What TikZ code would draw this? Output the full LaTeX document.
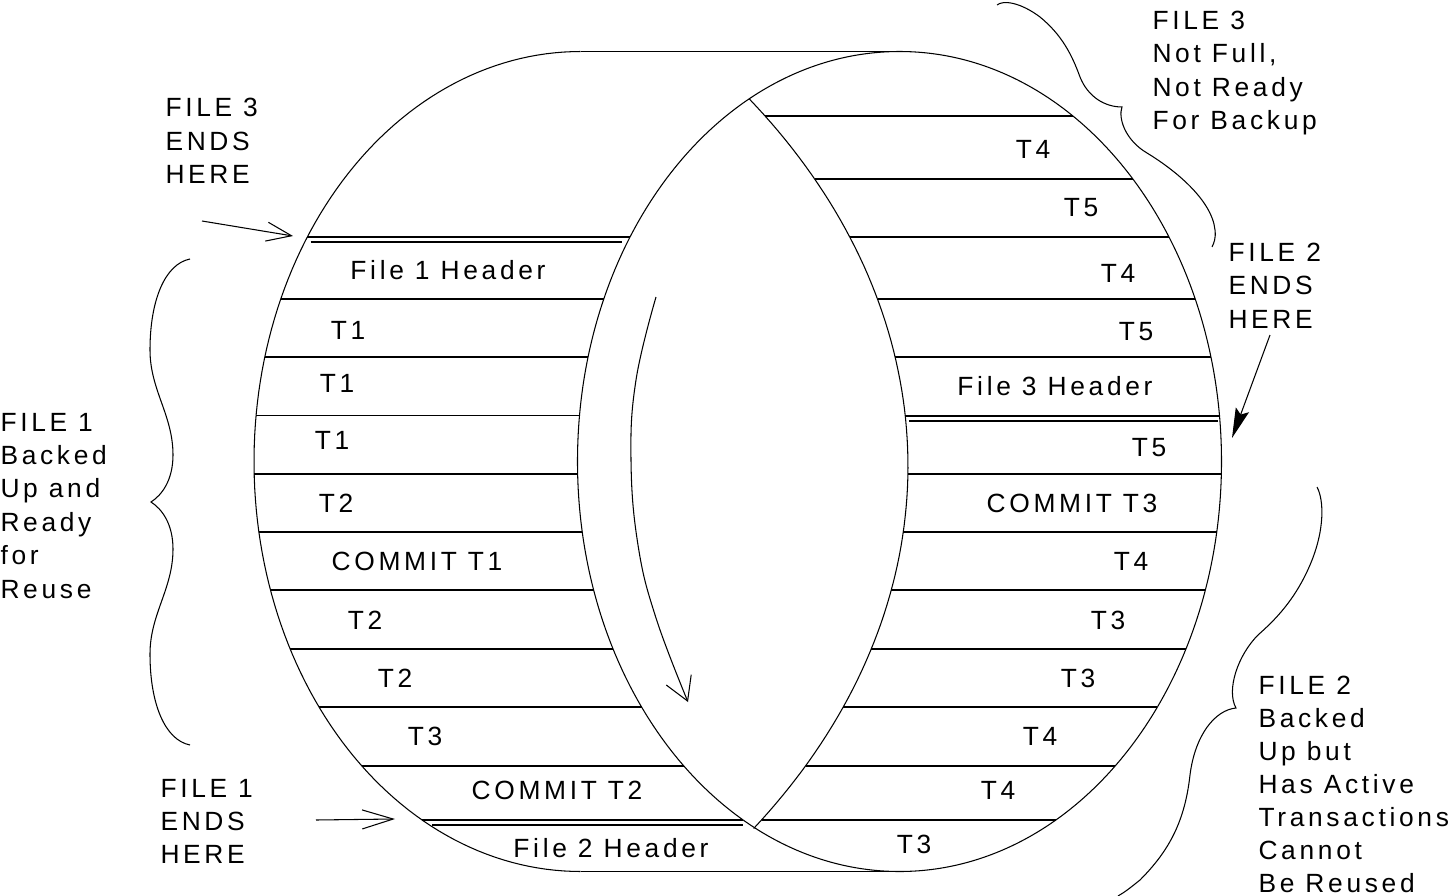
\documentclass[tikz,border=0pt]{standalone}
\usepackage{fontspec}
\newfontfamily\cadfont[LetterSpace=14]{Liberation Sans}
\usetikzlibrary{arrows.meta}

\begin{document}
\begin{tikzpicture}[
    x=0.02cm, y=-0.02cm,
    line width=0.6pt,
    every node/.style={font=\cadfont\fontsize{15}{19}\selectfont, inner sep=0pt},
    rec/.style={line width=0.85pt},
    lbl/.style={anchor=center},
    note/.style={align=left, anchor=north west},
    barb/.style={-{Straight Barb[length=#1, width=0.38cm]}},
    barb/.default=0.5cm,
    solid tip/.style={-{Stealth[length=0.6cm, width=0.28cm, inset=0.1cm]}},
]
    \useasboundingbox (0,0) rectangle (1455,896);

    % drum outline
    \draw plot[domain=90:270, samples=120] ({580.5+326.5*cos(\x)}, {461.5+410*sin(\x)});
    \draw (580.5,51.5) -- (899.5,51.5);
    \draw (580.5,871.5) -- (899.5,871.5);
    \draw (899.5,461.5) ellipse [x radius=322, y radius=410];
    \draw plot[domain=-34.4:33.9, samples=80] ({908*cos(\x)}, {466+650*sin(\x)});

    % records, left face
    \foreach \y in {237,299,357,415.5,474,532,590,649,707,766,820} {
        \pgfmathsetmacro\wa{sqrt(1-((\y-461.5)/410)^2)}
        \draw[rec] (580.5-326.5*\wa,\y) -- (899.5-322*\wa,\y);
    }
    \foreach \y/\il/\ir in {242/6/6, 825/3/8} {
        \pgfmathsetmacro\wa{sqrt(1-((\y-461.5)/410)^2)}
        \draw[rec] (580.5-326.5*\wa+\il,\y) -- (899.5-322*\wa-\ir,\y);
    }

    % records, right face
    \foreach \y in {116,179,237,299,357,416,474,532,590,649,707,766,820} {
        \pgfmathsetmacro\wa{sqrt(1-((\y-461.5)/410)^2)}
        \pgfmathsetmacro\wb{sqrt(1-((\y-466)/650)^2)}
        \draw[rec] (908*\wb,\y) -- (899.5+322*\wa,\y);
    }
    \pgfmathsetmacro\wa{sqrt(1-((421-461.5)/410)^2)}
    \pgfmathsetmacro\wb{sqrt(1-((421-466)/650)^2)}
    \draw[rec] (908*\wb+3,421) -- (899.5+322*\wa-2,421);

    % left face labels
    \node[lbl] (f1hdr) at (448,270) {File 1 Header};
    \node[lbl] (lta) at (348,330) {T1};
    \node[lbl] (ltb) at (337,383) {T1};
    \node[lbl] (ltc) at (332,440) {T1};
    \node[lbl] (ltd) at (336,503) {T2};
    \node[lbl] (lcm1) at (417,561) {COMMIT T1};
    \node[lbl] (lte) at (365,620) {T2};
    \node[lbl] (ltf) at (395,678) {T2};
    \node[lbl] (ltg) at (425,736) {T3};
    \node[lbl] (lcm2) at (557,790) {COMMIT T2};
    \node[lbl] (f2hdr) at (611,848) {File 2 Header};

    % right face labels
    \node[lbl] (rta) at (1033,149) {T4};
    \node[lbl] (rtb) at (1081,208) {T5};
    \node[lbl] (rtc) at (1118,273) {T4};
    \node[lbl] (rtd) at (1136,332) {T5};
    \node[lbl] (f3hdr) at (1055,386) {File 3 Header};
    \node[lbl] (rte) at (1149,448) {T5};
    \node[lbl] (rcm3) at (1072,503) {COMMIT T3};
    \node[lbl] (rtf) at (1131,561) {T4};
    \node[lbl] (rtg) at (1108,620) {T3};
    \node[lbl] (rth) at (1078,678) {T3};
    \node[lbl] (rti) at (1040,736) {T4};
    \node[lbl] (rtj) at (998,790) {T4};
    \node[lbl] (rtk) at (914,844) {T3};

    % notes
    \node[note] (f3ends) at (165,98) {FILE 3\\ENDS\\HERE};
    \node[note] (f1note) at (0,412.5) {FILE 1\\Backed\\Up and\\Ready\\for\\Reuse};
    \node[note] (f1ends) at (160,778.5) {FILE 1\\ENDS\\HERE};
    \node[note] (f3note) at (1152,10.5) {FILE 3\\Not Full,\\Not Ready\\For Backup};
    \node[note] (f2ends) at (1228,242.5) {FILE 2\\ENDS\\HERE};
    \node[note, font=\cadfont\fontsize{15}{18.7}\selectfont] (f2note) at (1258,676) {FILE 2\\Backed\\Up but\\Has Active\\Transactions\\Cannot\\Be Reused};

    % arrows
    \coordinate (f3tail) at (202,221);
    \coordinate (f3tip) at (293,236);
    \coordinate (f1tail) at (316,820);
    \coordinate (f1tip) at (395,819);
    \coordinate (f2tail) at (1270,335);
    \coordinate (f2tip) at (1232,438);
    \draw[barb] (f3tail) -- (f3tip);
    \draw[barb=0.62cm] (f1tail) -- (f1tip);
    \draw[solid tip] (f2tail) -- (f2tip);
    \draw[-{Straight Barb[length=0.46cm, width=0.54cm]}] plot[smooth, tension=0.7] coordinates
        {(656,297) (636,380) (631,460) (638,545) (656,618) (688,702)};

    % braces
    \draw (190,259) .. controls (165,264) and (150,300) .. (150,350)
        .. controls (150,390) and (173,415) .. (173,455)
        .. controls (173,480) and (162,495) .. (151,502)
        .. controls (162,509) and (173,524) .. (173,549)
        .. controls (173,589) and (150,614) .. (150,654)
        .. controls (150,704) and (165,740) .. (190,745);
    \draw (997,5) .. controls (1003,0) and (1020,2) .. (1040,17)
        .. controls (1062,35) and (1072,55) .. (1080,77)
        .. controls (1088,97) and (1105,107) .. (1122,107)
        .. controls (1118,118) and (1125,140) .. (1147,153)
        .. controls (1175,170) and (1212,200) .. (1215,230)
        .. controls (1216,238) and (1214,243) .. (1212,247);
    \draw (1317,487) .. controls (1324,500) and (1325,530) .. (1310,565)
        .. controls (1295,600) and (1275,620) .. (1258,635)
        .. controls (1238,655) and (1226,690) .. (1236,708)
        .. controls (1215,710) and (1195,735) .. (1190,775)
        .. controls (1185,820) and (1170,850) .. (1140,880)
        .. controls (1130,888) and (1125,892) .. (1118,896);
\end{tikzpicture}
\end{document}
